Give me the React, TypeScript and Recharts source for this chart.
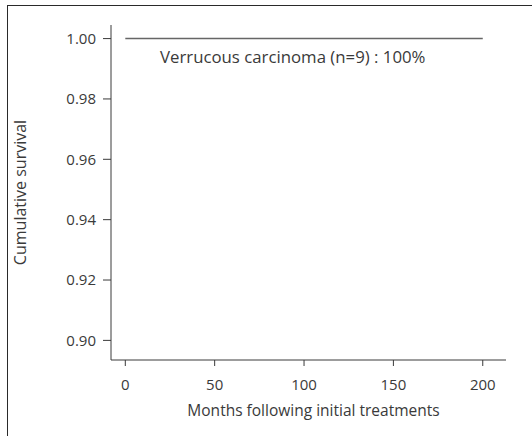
import { LineChart, Line, XAxis, YAxis, Label } from 'recharts';

// Kaplan–Meier style curve: every patient still alive, so it stays at 1.00
const months = [0, 200];
const survival = [1.0, 1.0];
const xTicks = [0, 50, 100, 150, 200];
const yTicks = [0.9, 0.92, 0.94, 0.96, 0.98, 1.0];
const seriesName = 'Verrucous carcinoma (n=9) : 100%';

const data = months.map((m, i) => ({ month: m, survival: survival[i] }));

const font = '"Open Sans", sans-serif';
const ink = '#3a3a3a';

export default function App() {
  return (
    <div style={{ position: 'absolute', left: 0, top: 0, width: 532, height: 436, background: '#fff', fontFamily: font }}>
      <div
        style={{
          position: 'absolute',
          left: 7,
          top: 5,
          width: 532,
          height: 440,
          borderTop: '1.5px solid #2a2a2a',
          borderLeft: '1.5px solid #2a2a2a',
        }}
      />
      <LineChart
        width={532}
        height={436}
        data={data}
        margin={{ top: 25, right: 26, bottom: 0, left: 0 }}
        style={{ position: 'absolute', left: 0, top: 0 }}
      >
        <XAxis
          type="number"
          dataKey="month"
          domain={[-8, 213]}
          ticks={xTicks}
          allowDataOverflow
          stroke={ink}
          tickSize={6}
          tickMargin={13}
          tick={{ fontSize: 15, fill: ink, fontFamily: font }}
          height={76}
        >
          <Label
            value="Months following initial treatments"
            position="insideTop"
            offset={45}
            dx={5}
            style={{ fontSize: 15.5, fill: ink, fontFamily: font }}
          />
        </XAxis>
        <YAxis
          type="number"
          domain={[0.8935, 1.0045]}
          ticks={yTicks}
          allowDataOverflow
          width={111}
          stroke={ink}
          tickSize={8}
          tickMargin={7}
          tickFormatter={(v) => (v as number).toFixed(2)}
          tick={{ fontSize: 15, fill: ink, fontFamily: font }}
        >
          <Label
            value="Cumulative survival"
            angle={-90}
            position="insideLeft"
            offset={20}
            style={{ textAnchor: 'middle', fontSize: 16, fill: ink, fontFamily: font }}
          />
        </YAxis>
        <Line
          type="stepAfter"
          dataKey="survival"
          stroke="#666"
          strokeWidth={1.5}
          dot={false}
          isAnimationActive={false}
        />
      </LineChart>
      <div
        style={{
          position: 'absolute',
          left: 160,
          top: 46,
          fontSize: 16.8,
          color: ink,
          whiteSpace: 'nowrap',
          lineHeight: '22px',
        }}
      >
        {seriesName}
      </div>
    </div>
  );
}
